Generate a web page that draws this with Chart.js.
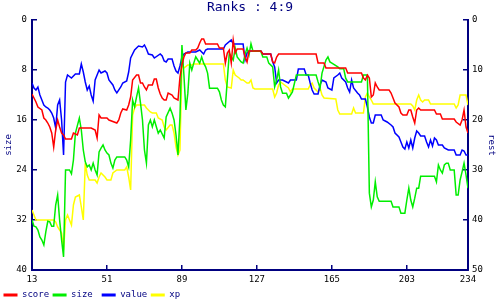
<!DOCTYPE html>
<html>
<head>
<meta charset="utf-8">
<title>Ranks : 4:9</title>
<script src="https://cdn.jsdelivr.net/npm/chart.js@4"></script>
<style>
  html, body { margin: 0; padding: 0; background: #ffffff; }
</style>
</head>
<body>
<canvas id="ranks" width="500" height="300"></canvas>
<script>
// x ticks shown on the bottom axis (day numbers)
const xTicks = [13, 51, 89, 127, 165, 203, 234];

// series, [day, rank] pairs
const score = [[13,14.8],[14,15.6],[15,16.4],[16,17.4],[18,18],[19,19.6],[20,20],[21,20.6],[22,21.4],[23,22.6],[24,25.4],[25,22],[26,20],[27,21.4],[28,22.6],[29,23],[30,23.8],[33,23.8],[34,22.6],[36,23],[37,21.6],[43,21.6],[45,22],[46,23.6],[47,19],[48,19.6],[51,19.6],[52,20],[56,20.6],[57,20],[58,18.6],[59,17.8],[61,18],[62,17],[63,15.4],[64,12],[66,11],[67,11],[68,12.6],[69,12.6],[70,13.4],[71,14],[72,13],[74,13],[75,11.8],[76,11.8],[77,13.6],[78,14.8],[79,15.6],[80,16],[81,16],[82,14.6],[84,15],[85,15.6],[87,16],[88,11.4],[89,9],[90,7.4],[91,6.6],[93,6.6],[94,6],[96,6],[97,5.6],[98,4.6],[99,3.8],[100,3.8],[101,4.8],[107,4.8],[108,5.6],[110,5.6],[111,8.6],[112,6.6],[113,6],[114,8.6],[115,4],[116,6.6],[117,5.8],[120,5.8],[121,7.4],[122,8.4],[123,6.2],[129,6.2],[130,6.8],[134,6.8],[135,8.4],[136,8.6],[137,7.4],[138,6.8],[157,6.8],[158,8.6],[161,8.6],[162,9.6],[172,9.6],[173,10.6],[180,10.6],[181,11.6],[182,12],[183,11],[184,11.6],[185,15.4],[186,15],[187,12.6],[188,13.4],[189,14],[194,14],[195,14.6],[196,15.6],[197,16.6],[199,17.4],[200,18.6],[201,19],[203,19],[204,18],[205,18],[206,19.4],[207,20.6],[208,18],[209,17.6],[210,18],[217,18],[218,18.8],[220,18.8],[221,19.8],[227,19.8],[228,20.4],[230,21],[231,20],[232,18],[233,21.4],[234,22.6]];

const size = [[13,32],[14,33],[15,33.1],[16,33.6],[17,34.7],[18,35.2],[19,36],[20,33.9],[21,32.2],[22,32.3],[23,33],[24,33],[25,29.6],[26,28],[27,32],[28,35.2],[29,37.9],[30,24],[32,24],[33,24.6],[34,22.4],[35,18.1],[37,15.7],[38,17.6],[39,20.8],[40,22.7],[41,23.5],[42,23.2],[43,24],[44,22.9],[45,24],[46,24.8],[47,21.1],[48,20.5],[49,20],[50,20.8],[51,21.3],[52,21.6],[53,22.9],[54,23.7],[55,22.4],[56,21.9],[60,21.9],[61,22.4],[62,23.5],[63,19.2],[64,12.8],[65,13.9],[66,12.3],[67,10.9],[68,13.3],[69,16],[70,20.8],[71,22.9],[72,16.8],[73,16],[74,17.1],[75,16],[77,18.1],[78,17.6],[80,18.9],[81,15.5],[83,14.1],[84,14.9],[85,16],[86,18.4],[87,21.6],[88,15.5],[89,4],[90,8.8],[91,14.4],[92,11.7],[93,6.9],[94,8],[95,6.9],[96,5.9],[97,6.4],[98,6.9],[99,5.9],[100,6.9],[101,7.5],[102,8.5],[103,10.9],[107,10.9],[108,11.5],[109,12.8],[110,13.6],[111,13.9],[112,9.6],[113,5.3],[115,6.4],[116,4.5],[117,5.9],[119,6.7],[120,6.9],[121,5.5],[122,4.5],[123,5.6],[124,3.8],[125,5],[129,5],[130,5.9],[132,5.9],[133,6.9],[135,7.5],[136,10.7],[137,9.6],[138,8],[139,10.7],[140,11.7],[142,11.7],[143,12.5],[144,12],[145,11.5],[147,8.8],[157,8.8],[158,9.9],[159,10.9],[160,8.5],[162,6.4],[163,5.9],[164,6.7],[165,6.9],[168,7.5],[169,7.8],[171,7.8],[172,9.3],[173,9.9],[180,9.9],[181,8.8],[183,8.8],[184,27.7],[185,29.9],[186,28.8],[187,25.9],[188,28.3],[189,29],[195,29],[196,29.9],[199,29.9],[200,30.9],[202,30.9],[203,28.8],[204,26.9],[205,28.8],[206,29.9],[207,28.5],[208,26.9],[209,26.9],[210,25],[217,25],[218,25.9],[219,23.2],[220,24],[221,24.5],[222,23.2],[223,22.9],[224,22.9],[225,24],[227,24],[228,28],[229,28],[230,25.6],[231,24.3],[232,22.9],[233,24.8],[234,26.9]];

const value = [[13,12.6],[14,13.6],[15,14],[16,13.4],[17,15],[18,16],[19,17],[20,17.4],[21,17.6],[22,18],[23,18.6],[24,19.6],[25,21.6],[26,17],[27,16],[28,20],[29,27],[30,12.4],[31,11],[33,11.6],[35,10.8],[37,10.8],[38,8.8],[39,10.4],[40,12.4],[41,14],[42,13.2],[43,15],[44,16.2],[45,12],[47,10],[48,10.6],[50,10.2],[51,10.6],[52,12],[54,13],[55,14],[56,14.6],[58,13.4],[59,12.6],[61,12.2],[62,10.4],[63,7.6],[65,6],[67,5.2],[69,5.4],[70,5],[71,5.8],[72,6.8],[74,7],[75,7.6],[78,6.8],[79,7.2],[80,8.2],[81,8.4],[82,7.8],[84,7.8],[85,9.2],[86,10.2],[87,10.6],[88,9.2],[89,7.4],[90,6.8],[92,6.4],[96,6.4],[98,6],[100,6.8],[101,6],[102,5.8],[110,5.8],[111,5],[114,4],[115,4.8],[120,4.8],[121,8],[122,6.6],[123,6.2],[129,6.2],[130,6.8],[134,6.8],[135,8.4],[136,9.4],[137,12.6],[138,12],[140,12],[143,12.6],[144,12],[147,12],[148,9.8],[151,9.8],[152,11],[153,11],[154,12.6],[155,14],[156,14.8],[158,14.8],[159,13],[160,12],[162,12.4],[163,13.6],[165,14],[166,11.6],[168,11],[169,10.6],[170,11.6],[172,12.4],[173,13.6],[174,14.4],[175,12],[176,13.6],[178,14.6],[179,15],[180,15.8],[182,15.8],[183,17.4],[184,19.4],[185,20.6],[186,20.6],[187,19],[190,19],[191,20],[193,20.4],[195,21],[196,21.4],[197,22.6],[199,23.4],[200,24.4],[201,25.4],[202,25.8],[203,24.4],[204,25.6],[205,24],[206,25.6],[207,23.6],[208,22.2],[209,22.6],[210,23.2],[212,23.2],[213,24.4],[214,25.4],[215,24],[216,25.2],[217,23.6],[218,24],[219,25],[221,25],[222,25.6],[224,26],[227,26],[228,27],[230,27],[231,26],[232,26.2],[233,27],[234,27]];

const xp = [[13,38],[14,39],[15,40],[24,40],[25,40.4],[26,41.4],[27,42],[28,42.6],[29,46],[30,40],[31,39],[32,40],[33,41],[34,37],[35,35.4],[37,35],[38,37.4],[39,40],[40,28.6],[41,31],[42,32],[45,32],[46,32.6],[47,31.4],[48,30.6],[50,31.4],[51,32],[53,32],[54,30.6],[56,30],[60,30],[61,29.4],[62,31.4],[63,34],[64,19],[65,17.6],[66,17],[70,17],[71,17.6],[73,18.4],[74,18.6],[76,18.6],[77,19.6],[79,20],[80,21.4],[81,22],[83,21],[84,21],[85,22.6],[86,25.4],[87,27],[88,26],[89,8.6],[90,9.6],[92,9],[94,9],[95,8.8],[110,8.8],[111,12],[112,13.4],[114,13.6],[115,10],[116,11],[118,11.6],[119,12],[120,12],[122,12.6],[123,12.6],[124,12],[125,13.6],[126,13.8],[135,13.8],[136,15.4],[137,14.6],[138,13],[139,12.4],[141,13],[143,13.6],[144,14.4],[145,13.8],[153,13.8],[154,13],[155,12.6],[156,13.6],[158,14.4],[159,13.6],[160,15],[161,15.6],[167,15.8],[168,18],[169,18.8],[175,18.8],[176,17.6],[177,18.6],[181,18.6],[182,15.4],[183,14.6],[184,15.4],[185,16],[186,16.8],[205,16.8],[206,17.2],[207,18],[208,16],[209,15],[210,16],[211,16.4],[212,16],[214,16],[215,16.8],[227,16.8],[228,17.6],[229,17],[230,15],[233,15],[234,17]];

const NAVY = '#000080';
const MONO = 'DejaVu Sans Mono';

Chart.defaults.font.family = MONO;

function pts(arr) {
  return arr.map(function(p){ return {x: p[0], y: p[1]}; });
}

function line(label, data, color, axis) {
  return {
    label: label,
    data: pts(data),
    yAxisID: axis,
    borderColor: color,
    backgroundColor: color,
    borderWidth: 1.5,
    pointRadius: 0,
    tension: 0
  };
}

// ticks point inwards (negative tick length), widths fixed in afterFit
function yAxis(pos, max, step, title, pad, titlePad) {
  return {
    type: 'linear',
    position: pos,
    min: 0,
    max: max,
    reverse: true,
    afterFit: function(scale) { scale.width = 32; },
    ticks: { stepSize: step, color: '#000000', padding: pad, font: { size: 9 } },
    title: { display: true, text: title, color: NAVY, font: { size: 9, family: MONO }, padding: titlePad },
    grid: { drawOnChartArea: false, color: NAVY, lineWidth: 1.5, tickLength: -5 },
    border: { color: NAVY, width: 2 }
  };
}

const ctx = document.getElementById('ranks');
new Chart(ctx, {
  type: 'line',
  data: {
    datasets: [
      line('score', score, '#ff0000', 'yRest'),
      line('size', size, '#00ee00', 'ySize'),
      line('value', value, '#0000ff', 'yRest'),
      line('xp', xp, '#ffff00', 'yRest')
    ]
  },
  options: {
    responsive: false,
    animation: false,
    devicePixelRatio: 1,
    layout: { padding: { left: 0, right: 0, top: 0, bottom: -9.5 } },
    scales: {
      x: {
        type: 'linear',
        min: 13,
        max: 234,
        afterBuildTicks: function(scale) {
          scale.ticks = xTicks.map(function(v){ return {value: v}; });
        },
        afterFit: function(scale) { scale.height = 17; },
        ticks: { autoSkip: false, maxRotation: 0, color: '#000000', padding: 9.6, font: { size: 9 } },
        grid: { drawOnChartArea: false, color: NAVY, lineWidth: 1.5, tickLength: -5 },
        border: { color: NAVY, width: 2 }
      },
      ySize: yAxis('left', 40, 8, 'size', 10, { top: 3, bottom: 2 }),
      yRest: yAxis('right', 50, 10, 'rest', 9, { top: 3.6, bottom: 2 })
    },
    plugins: {
      title: {
        display: true,
        text: 'Ranks : 4:9',
        color: NAVY,
        font: { family: MONO, size: 13, weight: 'normal', lineHeight: 1 },
        padding: { top: 1, bottom: 6 }
      },
      legend: {
        position: 'bottom',
        align: 'start',
        labels: {
          boxWidth: 14,
          boxHeight: 3,
          padding: 3.5,
          color: NAVY,
          font: { family: MONO, size: 9 },
          generateLabels: function(chart) {
            const items = Chart.defaults.plugins.legend.labels.generateLabels(chart);
            items.forEach(function(it){
              it.text = it.text.padEnd(5, ' ');
              it.lineWidth = 0;
            });
            return items;
          }
        }
      },
      tooltip: { enabled: false }
    }
  }
});
</script>
</body>
</html>
